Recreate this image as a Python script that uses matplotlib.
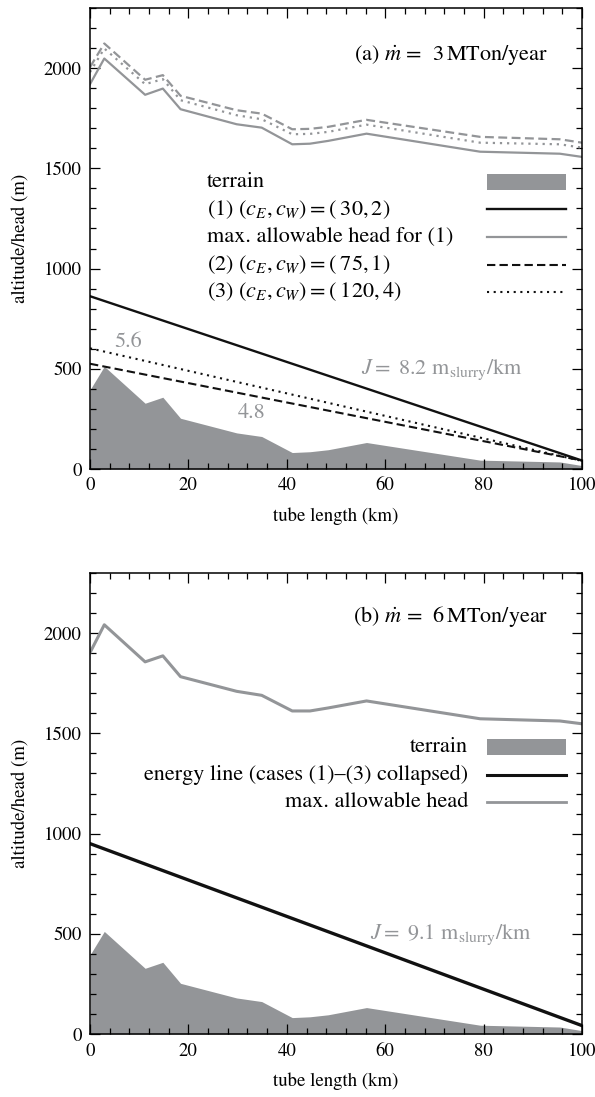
import matplotlib

matplotlib.use("Agg")
import matplotlib.pyplot as plt
from matplotlib.patches import Rectangle

plt.rcParams["font.family"] = ["STIXGeneral", "Liberation Serif", "DejaVu Serif"]
plt.rcParams["mathtext.fontset"] = "stix"

GRAY = "#939598"

# tube length (km) of the profile vertices
km = [0, 2.9, 11.2, 14.8, 18.4, 29.8, 34.9, 41.1, 44.7, 48.4, 56.2, 79.3, 95.5, 100]
terrain = [395, 512, 328, 358, 253, 180, 162, 82, 86, 96, 132, 44, 35, 17]

# max. allowable head, panel (a)
head1_a = [1920, 2048, 1867, 1898, 1795, 1720, 1703, 1620, 1623, 1637, 1673, 1583, 1573, 1557]
head2_a = [2005, 2123, 1942, 1965, 1862, 1790, 1773, 1695, 1697, 1707, 1742, 1657, 1645, 1628]
head3_a = [1980, 2098, 1920, 1945, 1840, 1765, 1745, 1670, 1672, 1682, 1718, 1628, 1620, 1603]
# max. allowable head, panel (b)
head_b = [1903, 2042, 1857, 1887, 1783, 1710, 1690, 1612, 1612, 1627, 1662, 1573, 1562, 1548]

# energy lines (straight, start/end)
km_line = [0, 100]
energy1_a = [862, 42]
energy2_a = [525, 42]
energy3_a = [602, 40]
energy_b = [950, 42]

DASHED = (0, (4, 2))
DOTTED = (0, (1, 2.2))


def style_axes(ax):
    ax.set_xlim(0, 100)
    ax.set_ylim(0, 2300)
    ax.set_xticks(range(0, 101, 20))
    ax.set_xticks(range(0, 101, 4), minor=True)
    ax.set_yticks(range(0, 2001, 500))
    ax.set_yticks(range(0, 2301, 100), minor=True)
    ax.tick_params(which="both", direction="in", top=True, right=True,
                   labelsize=13.5, width=0.9)
    ax.tick_params(which="major", length=7, pad=6)
    ax.tick_params(which="minor", length=4)
    for spine in ax.spines.values():
        spine.set_linewidth(1.1)
    ax.set_xlabel("tube length (km)", fontsize=13.5, labelpad=9)
    ax.set_ylabel("altitude/head (m)", fontsize=13.5, labelpad=10)


def legend_rows(ax, entries, text_x, align):
    ys = [0.623, 0.563, 0.503, 0.443, 0.384]
    x0, x1 = 0.807, 0.967
    for (label, kind, color, ls, lw), y in zip(entries, ys):
        ax.text(text_x, y, label, transform=ax.transAxes, ha=align,
                va="center", fontsize=16)
        if kind == "fill":
            ax.add_patch(Rectangle((x0, y - 0.017), x1 - x0, 0.034,
                                   transform=ax.transAxes, color=color, lw=0))
        else:
            ax.plot([x0, x1], [y, y], transform=ax.transAxes, color=color,
                    ls=ls, lw=lw)


def panel_a(ax):
    ax.fill_between(km, 0, terrain, color=GRAY, lw=0)
    ax.plot(km, head2_a, color=GRAY, ls=DASHED, lw=1.6)
    ax.plot(km, head3_a, color=GRAY, ls=DOTTED, lw=1.6)
    ax.plot(km, head1_a, color=GRAY, lw=1.6)
    ax.plot(km_line, energy2_a, color="#111111", ls=DASHED, lw=1.5)
    ax.plot(km_line, energy3_a, color="#111111", ls=DOTTED, lw=1.5)
    ax.plot(km_line, energy1_a, color="#111111", lw=1.7)

    ax.text(5.0, 635, "5.6", color=GRAY, fontsize=16, va="center")
    ax.text(32.8, 280, "4.8", color=GRAY, fontsize=16, va="center", ha="center")
    ax.text(55.0, 495, r"$J =$ 8.2 m$_{\mathrm{slurry}}$/km", color=GRAY,
            fontsize=16, va="center")
    ax.text(0.931, 0.898, r"(a) $\dot{m}$ =  3$\,$MTon/year",
            transform=ax.transAxes, ha="right", va="center", fontsize=16)

    entries = [
        ("terrain", "fill", GRAY, "-", 0),
        (r"(1) $(c_E, c_W) = (\;30, 2)$", "line", "#111111", "-", 1.7),
        ("max. allowable head for (1)", "line", GRAY, "-", 1.6),
        (r"(2) $(c_E, c_W) = (\;75, 1)$", "line", "#111111", DASHED, 1.5),
        (r"(3) $(c_E, c_W) = (\;120, 4)$", "line", "#111111", DOTTED, 1.5),
    ]
    legend_rows(ax, entries, 0.238, "left")
    style_axes(ax)


def panel_b(ax):
    ax.fill_between(km, 0, terrain, color=GRAY, lw=0)
    ax.plot(km, head_b, color=GRAY, lw=2.2)
    ax.plot(km_line, energy_b, color="#111111", lw=2.4)

    ax.text(57.0, 495, r"$J =$ 9.1 m$_{\mathrm{slurry}}$/km", color=GRAY,
            fontsize=16, va="center")
    ax.text(0.931, 0.905, r"(b) $\dot{m}$ =  6$\,$MTon/year",
            transform=ax.transAxes, ha="right", va="center", fontsize=16)

    entries = [
        ("terrain", "fill", GRAY, "-", 0),
        ("energy line (cases (1)\u2013(3) collapsed)", "line", "#111111", "-", 2.2),
        ("max. allowable head", "line", GRAY, "-", 2.0),
    ]
    legend_rows(ax, entries, 0.768, "right")
    style_axes(ax)


def main():
    fig = plt.figure(figsize=(5.95, 10.97), dpi=100)
    ax_a = fig.add_axes([0.1513, 0.5725, 0.8269, 0.4202])
    ax_b = fig.add_axes([0.1513, 0.0574, 0.8269, 0.4202])
    panel_a(ax_a)
    panel_b(ax_b)
    fig.savefig("out.png", dpi=100)


if __name__ == "__main__":
    main()
